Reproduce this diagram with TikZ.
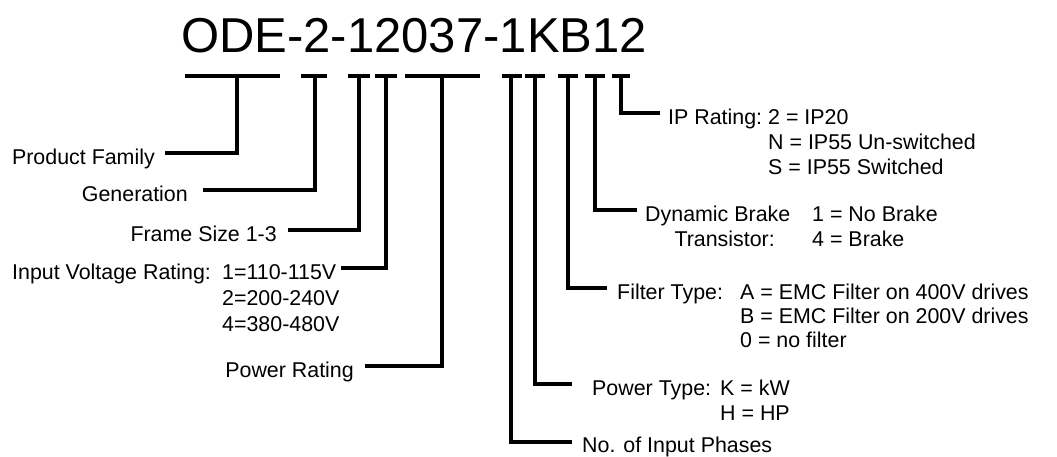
\documentclass[tikz,border=0pt]{standalone}
\usepackage{fontspec}
\setmainfont{Liberation Sans}
\tikzset{
  codeline/.style={line width=3.2pt},
  lbl/.style={inner sep=0pt, font=\fontsize{21.4}{25}\selectfont},
}
\begin{document}
\begin{tikzpicture}[x=1pt,y=-1pt]
\useasboundingbox (0,0) rectangle (1057,456);

\node[inner sep=0pt, anchor=base west, font=\fontsize{49}{55}\selectfont] (code) at (181,52) {ODE-2-12037-1KB12};

% bars under the code, one stem point each
\foreach \nome/\xa/\xb/\xs in {fam/185/280/237, gen/301/327/315, frame/348/370/359, volt/375/397/386, power/405/480/442, phase/502/522/511, ptype/525/545/535, filter/558/578/568, brake/585/605/595, ip/612/630/621}
    {
        \draw[codeline] (\xa,76) -- (\xb,76);
        \coordinate (\nome) at (\xs,76);
    }

% left side
\node[lbl, anchor=base east] (fam-l) at (155,164) {Product Family};
\node[lbl, anchor=base east] (gen-l) at (188,201) {Generation};
\node[lbl, anchor=base east] (frame-l) at (277,241) {Frame Size 1-3};
\node[lbl, anchor=base west] (volt-t) at (12,279) {Input Voltage Rating:};
\node[lbl, anchor=base west] (volt-l) at (222,279) {1=110-115V};
\node[lbl, anchor=base west] at (222,305) {2=200-240V};
\node[lbl, anchor=base west] at (222,331) {4=380-480V};
\node[lbl, anchor=base east] (power-l) at (354,377) {Power Rating};

\draw[codeline] (fam) |- ([xshift=10pt,yshift=11pt]fam-l.base east);
\draw[codeline] (gen) |- ([xshift=15pt,yshift=11pt]gen-l.base east);
\draw[codeline] (frame) |- ([xshift=11pt,yshift=11pt]frame-l.base east);
\draw[codeline] (volt) |- ([xshift=5pt,yshift=11pt]volt-l.base east);
\draw[codeline] (power) |- ([xshift=11pt,yshift=11pt]power-l.base east);

% right side
\node[lbl, anchor=base west] (ip-l) at (668,124) {IP Rating:};
\node[lbl, anchor=base west] at (768,124) {2 = IP20};
\node[lbl, anchor=base west] at (768,149) {N = IP55 Un-switched};
\node[lbl, anchor=base west] at (768,174) {S = IP55 Switched};

\node[lbl, anchor=base west] (brake-l) at (645,221) {Dynamic Brake};
\node[lbl, anchor=base east] at (775,246) {Transistor:};
\node[lbl, anchor=base west] at (812,221) {1 = No Brake};
\node[lbl, anchor=base west] at (812,246) {4 = Brake};

\node[lbl, anchor=base west] (filter-l) at (617,299) {Filter Type:};
\node[lbl, anchor=base west] at (740,299) {A = EMC Filter on 400V drives};
\node[lbl, anchor=base west] at (740,323) {B = EMC Filter on 200V drives};
\node[lbl, anchor=base west] at (740,347) {0 = no filter};

\node[lbl, anchor=base west] (ptype-l) at (592,395) {Power Type:};
\node[lbl, anchor=base west] at (720,395) {K = kW};
\node[lbl, anchor=base west] at (720,420) {H = HP};

\node[lbl, anchor=base west] (phase-l) at (582,452) {No. of Input Phases};

\draw[codeline] (ip) |- ([xshift=-8pt,yshift=11pt]ip-l.base west);
\draw[codeline] (brake) |- ([xshift=-8pt,yshift=11pt]brake-l.base west);
\draw[codeline] (filter) |- ([xshift=-10pt,yshift=11pt]filter-l.base west);
\draw[codeline] (ptype) |- ([xshift=-20pt,yshift=11pt]ptype-l.base west);
\draw[codeline] (phase) |- ([xshift=-10pt,yshift=10pt]phase-l.base west);
\end{tikzpicture}
\end{document}
